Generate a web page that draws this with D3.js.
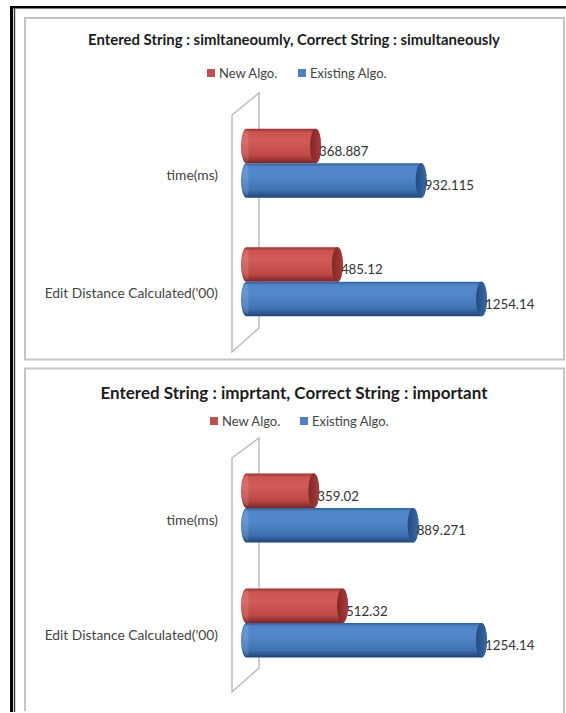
<!DOCTYPE html>
<html>
<head>
<meta charset="utf-8">
<script src="https://d3js.org/d3.v7.min.js"></script>
<style>
html, body { margin: 0; padding: 0; background: #fff; }
svg { display: block; }
text { font-family: Lato, "Open Sans", sans-serif; }
</style>
</head>
<body>
<svg id="figure" width="566" height="713"></svg>
<script>
// Chart content
const chartTitles = [
  "Entered String : simltaneoumly, Correct String : simultaneously",
  "Entered String : imprtant, Correct String : important"
];
const categories = ["time(ms)", "Edit Distance Calculated('00)"];
const seriesNames = ["New Algo.", "Existing Algo."];
const newAlgoValues = [[368.887, 485.12], [359.02, 512.32]];
const existingAlgoValues = [[932.115, 1254.14], [889.271, 1254.14]];
const valueLabels = [
  [["368.887", "485.12"], ["932.115", "1254.14"]],
  [["359.02", "512.32"], ["889.271", "1254.14"]]
];

// Layout of each chart panel
const panels = [
  { top: 18, bottom: 359.5, closed: true, titleY: 45, titleSize: 14.9, legendY: 73, legendX: [207, 298], band: [104, 341],
    plane: [[232, 115], [259, 93], [259, 328], [232, 352]] },
  { top: 368.5, bottom: 711, closed: false, titleY: 398.5, titleSize: 17, legendY: 421, legendX: [210, 300], band: [450.5, 680.5],
    plane: [[232, 458], [259, 438], [259, 668], [232, 692]] }
];

const panelLeft = 25;
const panelRight = 564;
const barThickness = 34.5;
const capRadius = 5.5;
const tubeOffsets = [0, 0.1, 0.35, 0.78, 1];
const palettes = [
  { stops: ["#96302e", "#cc5450", "#d25c58", "#bd4845", "#7d2523"], cap: ["#7f2725", "#a83c39"], swatch: "#c0504d" },
  { stops: ["#31609c", "#4f86c9", "#5389cc", "#3f72b2", "#1f4478"], cap: ["#224a80", "#3a6aa6"], swatch: "#4f81bd" }
];

const svg = d3.select("#figure");
const defs = svg.append("defs");

palettes.forEach((p, i) => {
  const tube = defs.append("linearGradient")
    .attr("id", "tube" + i)
    .attr("x1", 0).attr("y1", 0).attr("x2", 0).attr("y2", 1);
  tube.selectAll("stop").data(p.stops).join("stop")
    .attr("offset", (d, k) => tubeOffsets[k])
    .attr("stop-color", d => d);

  const cap = defs.append("linearGradient")
    .attr("id", "cap" + i)
    .attr("x1", 0).attr("y1", 0).attr("x2", 1).attr("y2", 0);
  cap.selectAll("stop").data(p.cap).join("stop")
    .attr("offset", (d, k) => k)
    .attr("stop-color", d => d);
});

// Heavy page frame along the top and left
svg.append("rect").attr("x", 10).attr("y", 6).attr("width", 556).attr("height", 2.5).attr("fill", "#000");
svg.append("rect").attr("x", 10).attr("y", 6).attr("width", 3).attr("height", 706).attr("fill", "#000");
svg.append("rect").attr("x", 13.8).attr("y", 8.5).attr("width", 1.4).attr("height", 703.5).attr("fill", "#333");

const x = d3.scaleLinear().domain([0, 1254.14]).range([246.5, 481.5]);

panels.forEach((panel, pi) => {
  const g = svg.append("g");

  // The lower panel runs off the page, so its base line is left open
  const outline = d3.path();
  outline.moveTo(panelLeft, panel.bottom);
  outline.lineTo(panelLeft, panel.top);
  outline.lineTo(panelRight, panel.top);
  outline.lineTo(panelRight, panel.closed ? panel.bottom : 713);
  if (panel.closed) outline.closePath();
  g.append("path")
    .attr("d", outline.toString())
    .attr("fill", "none").attr("stroke", "#c4c4c4").attr("stroke-width", 2);

  g.append("text")
    .attr("x", 294).attr("y", panel.titleY)
    .attr("text-anchor", "middle")
    .attr("font-size", panel.titleSize).attr("font-weight", 700).attr("fill", "#1c1c1c")
    .text(chartTitles[pi]);

  seriesNames.forEach((name, si) => {
    g.append("rect")
      .attr("x", panel.legendX[si]).attr("y", panel.legendY - 4)
      .attr("width", 8).attr("height", 8)
      .attr("fill", palettes[si].swatch);
    g.append("text")
      .attr("x", panel.legendX[si] + 12).attr("y", panel.legendY + 4.5)
      .attr("font-size", 13).attr("fill", "#444")
      .text(name);
  });

  g.append("path")
    .attr("d", d3.line().curve(d3.curveLinearClosed)(panel.plane))
    .attr("fill", "none").attr("stroke", "#b8b8b8").attr("stroke-width", 1.4);

  const y = d3.scaleBand().domain(categories).range(panel.band);
  const inner = d3.scaleBand().domain(seriesNames).range([-barThickness, barThickness]);

  categories.forEach((cat, ci) => {
    const mid = y(cat) + y.bandwidth() / 2;

    g.append("text")
      .attr("x", 218).attr("y", mid + 16.5)
      .attr("text-anchor", "end")
      .attr("font-size", 13.8).attr("fill", "#444")
      .text(cat);

    [newAlgoValues, existingAlgoValues].forEach((values, si) => {
      const v = values[pi][ci];
      const top = mid + inner(seriesNames[si]);
      const h = inner.bandwidth();
      const end = x(v);
      const start = x(0);
      const cy = top + h / 2;

      g.append("path")
        .attr("d", `M${start},${top} L${end},${top}
          A${capRadius},${h / 2} 0 0 1 ${end},${top + h}
          L${start},${top + h}
          A${capRadius},${h / 2} 0 0 1 ${start},${top} Z`)
        .attr("fill", `url(#tube${si})`);

      // Soft highlight on the rounded near end of the tube
      g.append("path")
        .attr("d", `M${start},${top + 2}
          A${capRadius - 1},${h / 2 - 2} 0 0 0 ${start},${top + h - 2}
          L${start + 2},${top + h - 2} L${start + 2},${top + 2} Z`)
        .attr("fill", "#fff").attr("opacity", 0.12);

      g.append("ellipse")
        .attr("cx", end).attr("cy", cy)
        .attr("rx", capRadius).attr("ry", h / 2)
        .attr("fill", `url(#cap${si})`);

      g.append("text")
        .attr("x", end + capRadius - 2).attr("y", top + 27)
        .attr("font-size", 13.3).attr("fill", "#333")
        .text(valueLabels[pi][si][ci]);
    });
  });
});
</script>
</body>
</html>
